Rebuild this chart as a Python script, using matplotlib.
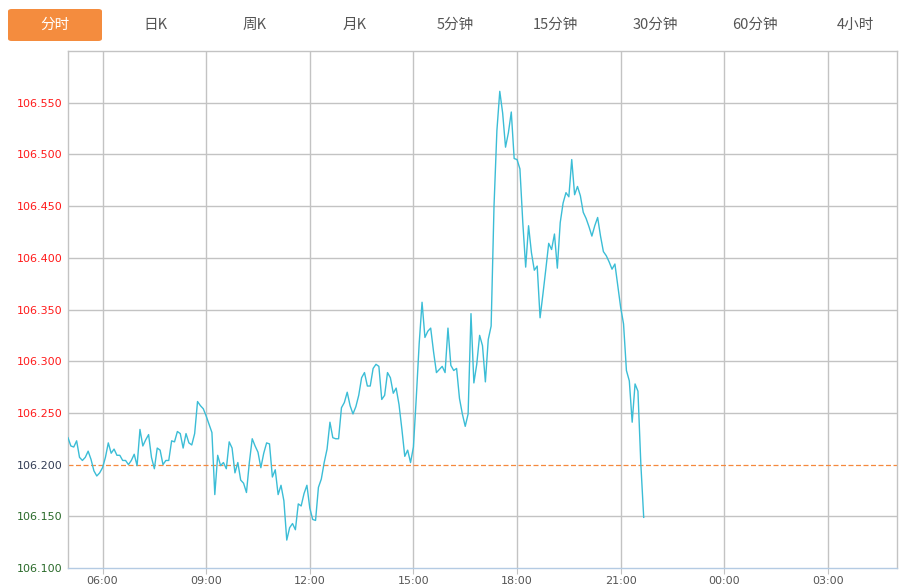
import matplotlib
matplotlib.use("Agg")
from matplotlib import pyplot as plt
from matplotlib.patches import FancyBboxPatch
import numpy as np

plt.rcParams['font.family'] = ['Noto Sans CJK SC', 'DejaVu Sans']

# tabs across the top
tabs = ['分时', '日K', '周K', '月K', '5分钟', '15分钟', '30分钟', '60分钟', '4小时']

# 5-minute prices starting 05:00
start_minute = 0
step = 5
prices = [
    106.226, 106.218, 106.217, 106.223, 106.207, 106.204, 106.207, 106.213, 106.205, 106.194,
    106.189, 106.192, 106.197, 106.207, 106.221, 106.211, 106.215, 106.209, 106.209, 106.204,
    106.204, 106.200, 106.204, 106.210, 106.199, 106.234, 106.218, 106.224, 106.229, 106.207,
    106.196, 106.216, 106.214, 106.200, 106.204, 106.204, 106.223, 106.222, 106.232, 106.230,
    106.216, 106.230, 106.221, 106.219, 106.230, 106.261, 106.257, 106.254, 106.247, 106.239,
    106.231, 106.171, 106.209, 106.199, 106.202, 106.196, 106.222, 106.216, 106.192, 106.202,
    106.185, 106.182, 106.173, 106.202, 106.225, 106.218, 106.212, 106.197, 106.211, 106.221,
    106.220, 106.188, 106.195, 106.171, 106.180, 106.165, 106.127, 106.139, 106.143, 106.137,
    106.162, 106.160, 106.172, 106.180, 106.158, 106.147, 106.146, 106.178, 106.186, 106.202,
    106.215, 106.241, 106.226, 106.225, 106.225, 106.255, 106.260, 106.270, 106.257, 106.249,
    106.256, 106.267, 106.284, 106.289, 106.276, 106.276, 106.293, 106.297, 106.295, 106.263,
    106.267, 106.289, 106.284, 106.269, 106.274, 106.258, 106.234, 106.208, 106.214, 106.202,
    106.217, 106.265, 106.317, 106.357, 106.323, 106.329, 106.332, 106.309, 106.289, 106.292,
    106.295, 106.289, 106.332, 106.296, 106.291, 106.293, 106.264, 106.249, 106.237, 106.249,
    106.346, 106.279, 106.297, 106.325, 106.315, 106.280, 106.321, 106.334, 106.450, 106.523,
    106.561, 106.540, 106.507, 106.521, 106.541, 106.496, 106.495, 106.486, 106.434, 106.391,
    106.431, 106.405, 106.388, 106.392, 106.342, 106.365, 106.389, 106.414, 106.408, 106.423,
    106.390, 106.434, 106.453, 106.463, 106.459, 106.495, 106.461, 106.469, 106.460, 106.444,
    106.438, 106.430, 106.421, 106.431, 106.439, 106.421, 106.406, 106.402, 106.396, 106.389,
    106.394, 106.373, 106.352, 106.336, 106.291, 106.281, 106.241, 106.278, 106.271, 106.201,
    106.149,
]
prev_close = 106.200

y_ticks = [106.100, 106.150, 106.200, 106.250, 106.300, 106.350, 106.400, 106.450, 106.500, 106.550]
x_tick_labels = ['06:00', '09:00', '12:00', '15:00', '18:00', '21:00', '00:00', '03:00']
x_tick_minutes = [60, 240, 420, 600, 780, 960, 1140, 1320]

W, H = 911, 588
fig = plt.figure(figsize=(W / 100, H / 100), dpi=100)

# tab bar
for i, t in enumerate(tabs):
    cx = (55 + 100 * i) / W
    if i == 0:
        box = FancyBboxPatch((8 / W, 1 - 41 / H), 94 / W, 32 / H,
                             boxstyle="round,pad=0,rounding_size=0.004",
                             transform=fig.transFigure, fc='#f48c3e', ec='none')
        fig.patches.append(box)
        fig.text(cx, 1 - 25 / H, t, color='white', fontsize=10.5, ha='center', va='center')
    else:
        fig.text(cx, 1 - 25 / H, t, color='#555555', fontsize=10.5, ha='center', va='center')

ax = fig.add_axes([68 / W, 20 / H, (897 - 68) / W, (568 - 51) / H])

minutes = start_minute + step * np.arange(len(prices))
ax.plot(minutes, prices, color='#3bbdd6', lw=1.0, zorder=3)
ax.axhline(prev_close, color='#f5893e', lw=0.9, ls=(0, (4, 2)), zorder=2)

ax.set_xlim(0, 1440)
ax.set_ylim(106.100, 106.600)

for v in y_ticks:
    if abs(v - prev_close) < 1e-6 or abs(v - 106.100) < 1e-6:
        continue
    ax.axhline(v, color='#c3c3c3', lw=1.0, zorder=1)
for m in x_tick_minutes:
    ax.axvline(m, color='#c3c3c3', lw=1.0, zorder=1)

ax.set_yticks(y_ticks)
ax.set_yticklabels(['%.3f' % v for v in y_ticks], fontsize=8, family='DejaVu Sans')
for lbl, v in zip(ax.get_yticklabels(), y_ticks):
    if v > prev_close + 1e-6:
        lbl.set_color('#ff1a1a')
    elif v < prev_close - 1e-6:
        lbl.set_color('#2a6a2a')
    else:
        lbl.set_color('#333d55')
ax.tick_params(axis='y', length=0, pad=4)

ax.set_xticks(x_tick_minutes)
ax.set_xticklabels(x_tick_labels, fontsize=8, color='#555555', family='DejaVu Sans')
ax.tick_params(axis='x', length=4, color='#c3c3c3', pad=1.5)

for s in ['top', 'left', 'right']:
    ax.spines[s].set_color('#c3c3c3')
    ax.spines[s].set_linewidth(1.0)
ax.spines['bottom'].set_color('#b4cbe3')
ax.spines['bottom'].set_linewidth(1.0)

fig.savefig('out.png', dpi=100)
